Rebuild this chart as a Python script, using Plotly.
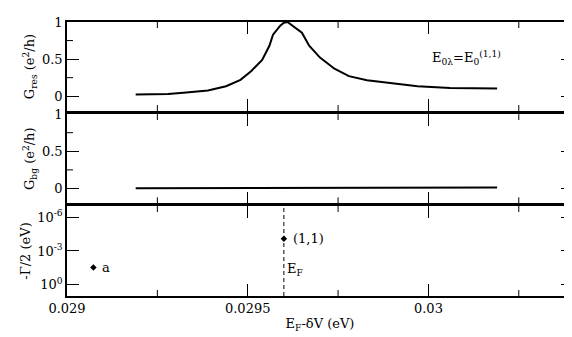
import math
import plotly.graph_objects as go

# resonant conductance G_res (e^2/h) vs E_F - dV (eV)
res_x = [0.02919, 0.02925, 0.02928, 0.02933, 0.02939, 0.02944, 0.02948, 0.02951,
         0.02954, 0.02956, 0.02957, 0.02959, 0.02960, 0.02961, 0.02965, 0.02967,
         0.02970, 0.02974, 0.02978, 0.02983, 0.02989, 0.02997, 0.03006, 0.03019]
res_y = [0.022, 0.024, 0.030, 0.050, 0.076, 0.135, 0.22, 0.34,
         0.49, 0.68, 0.83, 0.95, 0.99, 1.0, 0.855, 0.68,
         0.52, 0.37, 0.27, 0.216, 0.18, 0.135, 0.112, 0.103]

# background conductance G_bg
bg_x = [0.02919, 0.02960, 0.03012, 0.030121, 0.03019]
bg_y = [0.004, 0.004, 0.005, 0.012, 0.012]

# widths -Gamma/2 (eV)
pole_x = [0.029073, 0.02960]
pole_y = [0.03, 8e-5]
pole_names = ["a", "(1,1)"]
ef = 0.02960

x_ticks = [0.029, 0.0295, 0.03]
x_text = ["0.029", "0.0295", "0.03"]
x_minor = [0.02925, 0.02975, 0.03025]
g_ticks = [0, 0.5, 1]
g_text = ["0", "0.5", "1"]
g_minor = [0.25, 0.75]
log_ticks = [1e-6, 1e-3, 1]
log_text = ["10<sup>-6</sup>", "10<sup>-3</sup>", "10<sup>0</sup>"]

font = dict(family="DejaVu Serif", size=13, color="black")

fig = go.Figure()
fig.add_trace(go.Scatter(x=res_x, y=res_y, mode="lines", line=dict(color="black", width=2),
                         xaxis="x", yaxis="y"))
fig.add_trace(go.Scatter(x=bg_x, y=bg_y, mode="lines", line=dict(color="black", width=2),
                         xaxis="x2", yaxis="y2"))
fig.add_trace(go.Scatter(x=pole_x, y=pole_y, mode="markers",
                         marker=dict(symbol="diamond", size=5, color="black"),
                         xaxis="x3", yaxis="y3"))


def xax(anchor, labels):
    return dict(anchor=anchor, domain=[0, 1], range=[0.029, 0.0304],
                tickmode="array", tickvals=x_ticks, ticktext=x_text, showticklabels=labels,
                ticks="inside", ticklen=12, tickwidth=1, tickcolor="black",
                showline=True, linecolor="black", linewidth=1.5, mirror="allticks",
                showgrid=False, zeroline=False, tickfont=font, automargin=False)


def yax(anchor, dom, title):
    return dict(anchor=anchor, domain=dom, range=[-0.2, 1],
                tickmode="array", tickvals=g_ticks, ticktext=g_text,
                ticks="inside", ticklen=12, tickwidth=1, tickcolor="black",
                showline=True, linecolor="black", linewidth=1.5, mirror="allticks",
                showgrid=False, zeroline=False, tickfont=font, automargin=False,
                title=dict(text=title, font=font, standoff=4))


y3 = yax("x3", [0, 0.3285], "-Γ/2 (eV)")
y3.update(type="log", range=[1, -7], tickvals=log_ticks, ticktext=log_text)

x3 = xax("y3", True)
x3["title"] = dict(text="E<sub>F</sub>-δV (eV)", font=font, standoff=4)

fig.update_layout(
    width=572, height=337, showlegend=False,
    margin=dict(l=59, r=7, t=14, b=49),
    paper_bgcolor="white", plot_bgcolor="white", font=font,
    xaxis=xax("y", False), xaxis2=xax("y2", False), xaxis3=x3,
    yaxis=yax("x", [0.675, 1], "G<sub>res</sub> (e<sup>2</sup>/h)"),
    yaxis2=yax("x2", [0.338, 0.664], "G<sub>bg</sub> (e<sup>2</sup>/h)"),
    yaxis3=y3,
)

# minor ticks, drawn as short pixel-sized shapes on both sides of each panel
tick_line = dict(color="black", width=1)
for xr, yr in (("x", "y"), ("x2", "y2"), ("x3", "y3")):
    for v in x_minor:
        for side, sign in ((0, 1), (1, -1)):
            fig.add_shape(type="line", xref=xr, yref=yr + " domain", ysizemode="pixel",
                          yanchor=side, x0=v, x1=v, y0=0, y1=6 * sign, line=tick_line)
for xr, yr in (("x", "y"), ("x2", "y2")):
    for v in g_minor:
        for side, sign in ((0, 1), (1, -1)):
            fig.add_shape(type="line", xref=xr + " domain", yref=yr, xsizemode="pixel",
                          xanchor=side, y0=v, y1=v, x0=0, x1=6 * sign, line=tick_line)

# Fermi energy marker in the bottom panel
fig.add_shape(type="line", xref="x3", yref="y3 domain", x0=ef, x1=ef, y0=0, y1=0.99,
              line=dict(color="black", width=1, dash="4px,3px"))
fig.add_annotation(x=ef, y=0.18, xref="x3", yref="y3 domain", text="E<sub>F</sub>",
                   showarrow=False, xanchor="left", xshift=1, font=font)

for px, py, name in zip(pole_x, pole_y, pole_names):
    fig.add_annotation(x=px, y=math.log10(py), xref="x3", yref="y3", text=name,
                       showarrow=False, xanchor="left", xshift=7, font=font)

fig.add_annotation(x=0.717, y=0.72, xref="x domain", yref="y domain",
                   text="E<sub>0λ</sub>=E<sub>0</sub><sup>(1,1)</sup>",
                   showarrow=False, xanchor="left", font=font)

fig.write_html("out.html")
